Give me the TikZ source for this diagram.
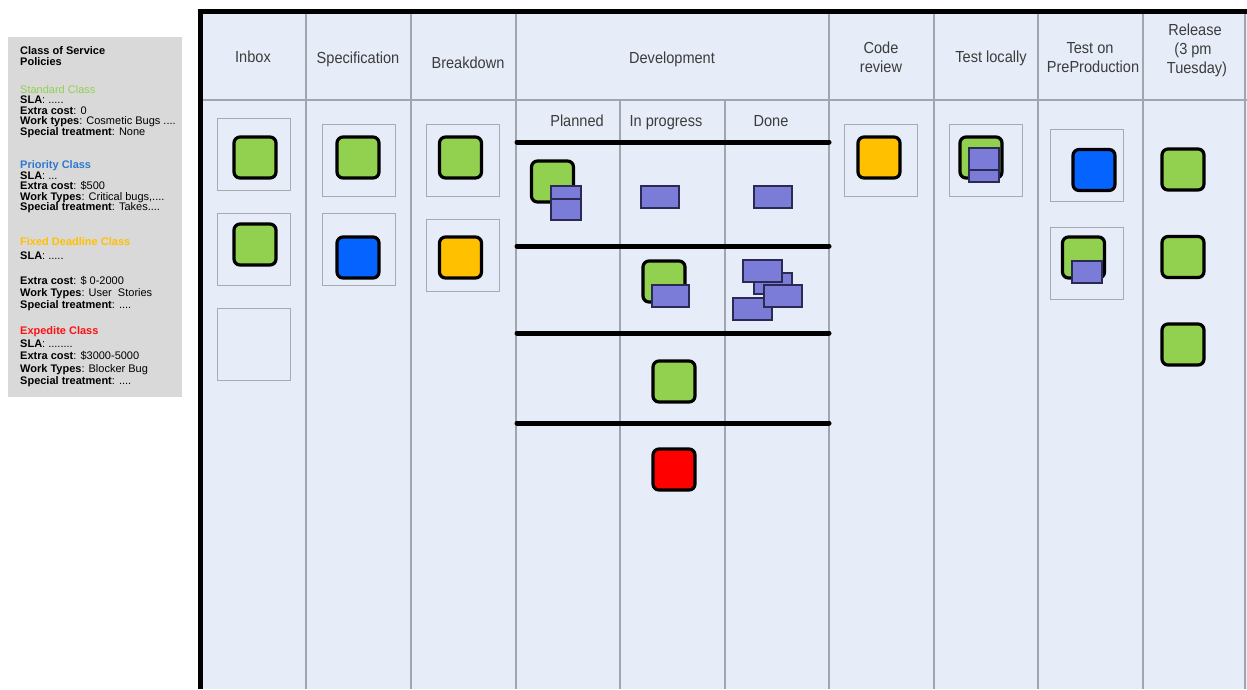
\documentclass[tikz,border=0pt]{standalone}
\usepackage{fontspec}
\setmainfont{Liberation Sans}
\newfontfamily\lgfont{Liberation Sans}
\newfontfamily\hdfont[FakeStretch=0.91]{Liberation Sans}
\definecolor{board}{HTML}{E6EDF8}
\definecolor{gridc}{HTML}{A0A5AE}
\definecolor{framec}{HTML}{A8ABB0}
\definecolor{legendbg}{HTML}{D9D9D9}
\definecolor{cgreen}{HTML}{92D050}
\definecolor{cblue}{HTML}{0563FF}
\definecolor{cyellow}{HTML}{FFC000}
\definecolor{cred}{HTML}{FF0000}
\definecolor{cpurple}{HTML}{7B7BD8}
\definecolor{tagedge}{HTML}{2A2A55}
\definecolor{hdtext}{HTML}{3C3C3C}
\definecolor{lgreen}{HTML}{92D050}
\definecolor{lblue}{HTML}{2F78D0}
\definecolor{lyellow}{HTML}{FFC000}
\definecolor{lred}{HTML}{FF1010}
\tikzset{
  gridline/.style={draw=gridc, line width=1.6pt},
  lane/.style={line width=5pt, line cap=round},
  card/.style={draw=black, line width=3.2pt, rounded corners=6pt, minimum width=42pt, minimum height=41pt, inner sep=0pt},
  frame/.style={draw=framec, line width=1pt, fill=board, minimum width=73pt, minimum height=72pt, inner sep=0pt},
  tag/.style={draw=tagedge, fill=cpurple, line width=1.2pt, inner sep=0pt},
  hd/.style={text=hdtext, font=\hdfont\fontsize{16}{19}\selectfont, anchor=base, inner sep=0pt},
  lg/.style={font=\lgfont\fontsize{11}{12}\selectfont, anchor=base west, inner sep=0pt},
}
\begin{document}
\begin{tikzpicture}[x=1pt,y=-1pt]
\useasboundingbox (0,0) rectangle (1247,689);
\fill[white] (0,0) rectangle (1247,689);
% legend
\node[fill=legendbg, minimum width=174pt, minimum height=360pt, inner sep=0pt] (legend) at (95,217) {};
\node[lg] (lt1) at (20,54) {\textbf{Class of Service}};
\node[lg] (lt2) at (20,65.5) {\textbf{Policies}};
\node[lg, text=lgreen] (ls0) at (20,93) {Standard Class};
\node[lg] (ls1) at (20,103.5) {\textbf{SLA}: .....};
\node[lg] (ls2) at (20,114) {\textbf{Extra cost}: 0};
\node[lg] (ls3) at (20,124.5) {\textbf{Work types}: Cosmetic Bugs ....};
\node[lg] (ls4) at (20,135) {\textbf{Special treatment}: None};
\node[lg, text=lblue] (lp0) at (20,168.5) {\textbf{Priority Class}};
\node[lg] (lp1) at (20,179) {\textbf{SLA}: ...};
\node[lg] (lp2) at (20,189.5) {\textbf{Extra cost}: \$500};
\node[lg] (lp3) at (20,200) {\textbf{Work Types}: Critical bugs,....};
\node[lg] (lp4) at (20,210.5) {\textbf{Special treatment}: Takes....};
\node[lg, text=lyellow] (lf0) at (20,245.5) {\textbf{Fixed Deadline Class}};
\node[lg] (lf1) at (20,259) {\textbf{SLA}: .....};
\node[lg] (lf2) at (20,284) {\textbf{Extra cost}: \$ 0-2000};
\node[lg] (lf3) at (20,296) {\textbf{Work Types}: User\ \ Stories};
\node[lg] (lf4) at (20,308) {\textbf{Special treatment}: ....};
\node[lg, text=lred] (le0) at (20,334) {\textbf{Expedite Class}};
\node[lg] (le1) at (20,347) {\textbf{SLA}: ........};
\node[lg] (le2) at (20,359.5) {\textbf{Extra cost}: \$3000-5000};
\node[lg] (le3) at (20,372) {\textbf{Work Types}: Blocker Bug};
\node[lg] (le4) at (20,384.5) {\textbf{Special treatment}: ....};
% board
\fill[board] (200,11) rectangle (1247,689);
\foreach \x in {306,411,516,829,934,1038,1143,1245} \draw[gridline] (\x,11) -- (\x,689);
\foreach \x in {620,725} \draw[gridline] (\x,100) -- (\x,689);
\draw[gridline] (203,100) -- (1247,100);
% header texts
\node[hd] (hinbox) at (253,62) {Inbox};
\node[hd] (hspec) at (358,63) {Specification};
\node[hd] (hbreak) at (468,68) {Breakdown};
\node[hd] (hdev) at (672,63) {Development};
\node[hd] (hcr1) at (881,53) {Code};
\node[hd] (hcr2) at (881,72) {review};
\node[hd] (htl) at (991,62) {Test locally};
\node[hd] (htp1) at (1090,53) {Test on};
\node[hd] (htp2) at (1093,72) {PreProduction};
\node[hd] (hr1) at (1195,35) {Release};
\node[hd] (hr2) at (1193,54) {(3 pm};
\node[hd] (hr3) at (1197,73) {Tuesday)};
\node[hd] (hpl) at (577,126.5) {Planned};
\node[hd] (hip) at (666,126.5) {In progress};
\node[hd] (hdn) at (771,126.5) {Done};
% swimlanes
\foreach \y in {142,246,333,423} \draw[lane] (517,\y) -- (829,\y);
% frames
\node[frame] (fi1) at (253.5,154) {};
\node[frame] (fi2) at (253.5,249) {};
\node[frame] (fi3) at (253.5,344) {};
\node[frame] (fs1) at (359,160) {};
\node[frame] (fs2) at (359,249) {};
\node[frame] (fb1) at (463,160) {};
\node[frame] (fb2) at (463,255) {};
\node[frame] (fc1) at (881,160) {};
\node[frame] (ft1) at (986,160) {};
\node[frame] (fp1) at (1087,165) {};
\node[frame] (fp2) at (1087,263) {};
% cards
\node[card, fill=cgreen] (ci1) at (255,157.5) {};
\node[card, fill=cgreen] (ci2) at (255,244.5) {};
\node[card, fill=cgreen] (cs1) at (358,157.5) {};
\node[card, fill=cblue] (cs2) at (358,257.5) {};
\node[card, fill=cgreen] (cb1) at (460.5,157.5) {};
\node[card, fill=cyellow] (cb2) at (460.5,257.5) {};
\node[card, fill=cgreen] (cd1) at (552.5,181.5) {};
\node[card, fill=cgreen] (cd2) at (664,281.5) {};
\node[card, fill=cgreen] (cd3) at (674,381.5) {};
\node[card, fill=cred] (cd4) at (674,469.5) {};
\node[card, fill=cyellow] (cc1) at (879,157.5) {};
\node[card, fill=cgreen] (ct1) at (981,157.5) {};
\node[card, fill=cblue] (cp1) at (1094,170) {};
\node[card, fill=cgreen] (cp2) at (1083.5,257.5) {};
\node[card, fill=cgreen] (cr1) at (1183,169.5) {};
\node[card, fill=cgreen] (cr2) at (1183,257) {};
\node[card, fill=cgreen] (cr3) at (1183,344.5) {};
% purple tasks
\node[tag, minimum width=30pt, minimum height=13pt] (t1) at (566,192.5) {};
\node[tag, minimum width=30pt, minimum height=21pt] (t2) at (566,209.5) {};
\node[tag, minimum width=38pt, minimum height=22pt] (t3) at (660,197) {};
\node[tag, minimum width=38pt, minimum height=22pt] (t4) at (773,197) {};
\node[tag, minimum width=37pt, minimum height=22pt] (t5) at (670.5,296) {};
\node[tag, minimum width=38pt, minimum height=21pt] (t6) at (773,283.5) {};
\node[tag, minimum width=39pt, minimum height=22pt] (t7) at (762.5,271) {};
\node[tag, minimum width=39pt, minimum height=22pt] (t8) at (752.5,309) {};
\node[tag, minimum width=38pt, minimum height=22pt] (t9) at (783,296) {};
\node[tag, minimum width=30pt, minimum height=22pt] (t10) at (984,159) {};
\node[tag, minimum width=30pt, minimum height=12pt] (t11) at (984,176) {};
\node[tag, minimum width=30pt, minimum height=22pt] (t12) at (1087,272) {};
% border
\draw[line width=5pt] (200.5,689) -- (200.5,11.5) -- (1247,11.5);
\end{tikzpicture}
\end{document}
